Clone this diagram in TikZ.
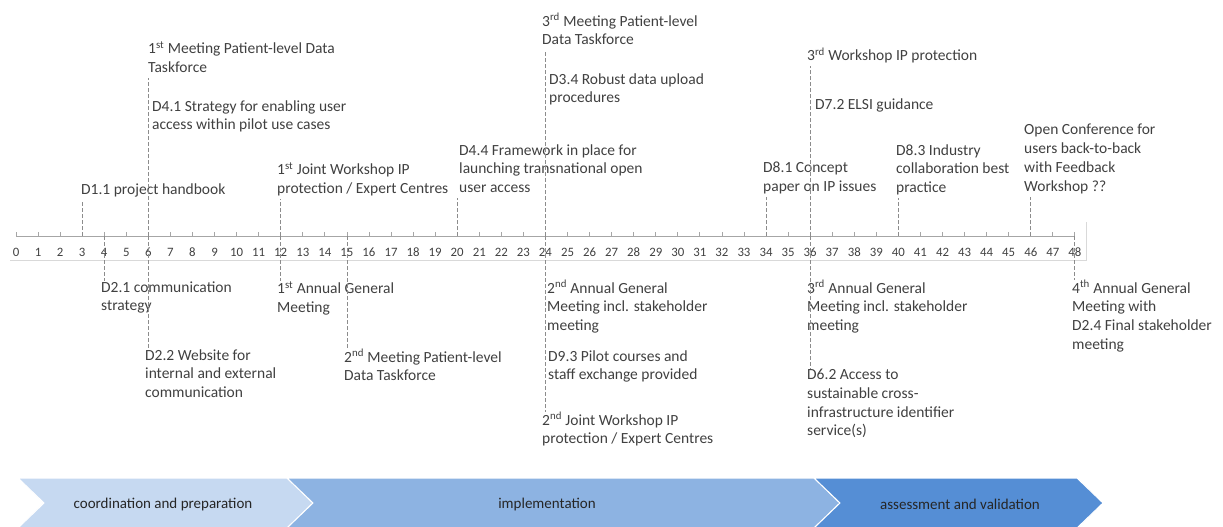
\documentclass[tikz,border=0pt]{standalone}
\usepackage{fontspec}
\setmainfont{Carlito}
\definecolor{txt}{HTML}{404040}
\definecolor{axisline}{HTML}{A6A6A6}
\definecolor{frameline}{HTML}{D9D9D9}
\definecolor{leader}{HTML}{8C8C8C}
\definecolor{phaseA}{HTML}{C6D9F1}
\definecolor{phaseB}{HTML}{8DB3E2}
\definecolor{phaseC}{HTML}{558ED5}
\newcommand{\ordsup}[1]{\textsuperscript{#1}}
\begin{document}
\begin{tikzpicture}[x=1pt,y=-1pt,
  lbl/.style={anchor=north west, inner sep=0pt, align=left, text=txt,
    font=\fontsize{15.5}{18.7}\selectfont, yshift=-2.5pt,
    execute at begin node=\strut, execute at end node=\strut},
  num/.style={inner sep=0pt, text=txt, font=\fontsize{12.8}{14}\selectfont},
  leaderline/.style={draw=leader, line width=0.8pt, dash pattern=on 4pt off 2pt},
  axisrule/.style={draw=axisline, line width=0.8pt},
  phase/.style={draw=white, line width=1pt},
  phasetext/.style={inner sep=0pt, text=black!85, font=\fontsize{15}{18}\selectfont}]
\useasboundingbox (0,0) rectangle (1223,527);
\clip (0,0) rectangle (1223,527);

% month axis: ticks and numbers
\foreach \k in {0,...,48}{
  \coordinate (m\k) at ({16+22.06*\k},236);
  \draw[axisrule] (m\k) -- ++(0,-4);
  \node[num] (n\k) at ({16+22.06*\k},252.5) {\k};
}
\draw[axisrule] (m0) -- (m48);
\draw[draw=frameline, line width=0.8pt] (10,260) -- (1086,260) -- (1086,222);

% milestones above the axis
\node[lbl] (mtgA) at (148,38.6) {1\ordsup{st} Meeting Patient-level Data\\Taskforce};
\node[lbl] (dFourOne) at (152,97.6) {D4.1 Strategy for enabling user\\access within pilot use cases};
\node[lbl] (dOneOne) at (81,178.6) {D1.1 project handbook};
\node[lbl] (wsA) at (277,159.6) {1\ordsup{st} Joint Workshop IP\\protection / Expert Centres};
\node[lbl] (dFourFour) at (459,141.6) {D4.4 Framework in place for\\launching transnational open\\user access};
\node[lbl] (mtgC) at (542,10.6) {3\ordsup{rd} Meeting Patient-level\\Data Taskforce};
\node[lbl] (dThreeFour) at (549,70.6) {D3.4 Robust data upload\\procedures};
\node[lbl] (dEightOne) at (763,159.6) {D8.1 Concept\\paper on IP issues};
\node[lbl] (wsC) at (807,44.6) {3\ordsup{rd} Workshop IP protection};
\node[lbl] (dSevenTwo) at (815,93.6) {D7.2 ELSI guidance};
\node[lbl] (dEightThree) at (896,141.6) {D8.3 Industry\\collaboration best\\practice};
\node[lbl] (conf) at (1024,121.6) {Open Conference for\\users back-to-back\\with Feedback\\Workshop ??};

% milestones below the axis
\node[lbl] (dTwoOne) at (101,278.6) {D2.1 communication\\strategy};
\node[lbl] (dTwoTwo) at (145,346.6) {D2.2 Website for\\internal and external\\communication};
\node[lbl] (agmA) at (277,278.6) {1\ordsup{st} Annual General\\Meeting};
\node[lbl] (mtgB) at (344,346.6) {2\ordsup{nd} Meeting Patient-level\\Data Taskforce};
\node[lbl] (agmB) at (547,277.6) {2\ordsup{nd} Annual General\\Meeting incl. stakeholder\\meeting};
\node[lbl] (dNineThree) at (548,347.6) {D9.3 Pilot courses and\\staff exchange provided};
\node[lbl] (wsB) at (542,409.6) {2\ordsup{nd} Joint Workshop IP\\protection / Expert Centres};
\node[lbl] (agmC) at (807,277.6) {3\ordsup{rd} Annual General\\Meeting incl. stakeholder\\meeting};
\node[lbl] (dSixTwo) at (807,366.6) {D6.2 Access to\\sustainable cross-\\infrastructure identifier\\service(s)};
\node[lbl] (agmD) at (1072,277.6) {4\ordsup{th} Annual General\\Meeting with\\D2.4 Final stakeholder\\meeting};

% leader lines from the axis to the milestones
\draw[leaderline] (m3) -- (m3 |- dOneOne.south);
\draw[leaderline] (m6) -- (m6 |- mtgA.south);
\draw[leaderline] (m12) -- (m12 |- wsA.south);
\draw[leaderline] (m20) -- (m20 |- dFourFour.south);
\draw[leaderline] (m24) -- (m24 |- mtgC.south);
\draw[leaderline] (m34) -- (m34 |- dEightOne.south);
\draw[leaderline] (m36) -- (m36 |- wsC.south);
\draw[leaderline] (m40) -- (m40 |- dEightThree.south);
\draw[leaderline] (m46) -- (m46 |- conf.south);
\draw[leaderline] (m4) -- (m4 |- dTwoOne.north);
\draw[leaderline] (m6) -- (m6 |- dTwoTwo.north);
\draw[leaderline] (m12) -- (m12 |- agmA.north);
\draw[leaderline] (m15) -- (m15 |- mtgB.north);
\draw[leaderline] (m24) -- (m24 |- wsB.north);
\draw[leaderline] (m36) -- (m36 |- dSixTwo.north);
\draw[leaderline] (m48) -- (m48 |- agmD.north);

% project phases
\path[phase, fill=phaseA] (18,478) -- (287,478) -- (313,503) -- (287,528) -- (18,528) -- (44,503) -- cycle;
\path[phase, fill=phaseB] (287,478) -- (814,478) -- (840,503) -- (814,528) -- (287,528) -- (313,503) -- cycle;
\path[phase, fill=phaseC] (814,478) -- (1077,478) -- (1103,503) -- (1077,528) -- (814,528) -- (840,503) -- cycle;
\node[phasetext] (phA) at (163,504) {coordination and preparation};
\node[phasetext] (phB) at (547,504) {implementation};
\node[phasetext] (phC) at (960,504) {assessment and validation};
\end{tikzpicture}
\end{document}
